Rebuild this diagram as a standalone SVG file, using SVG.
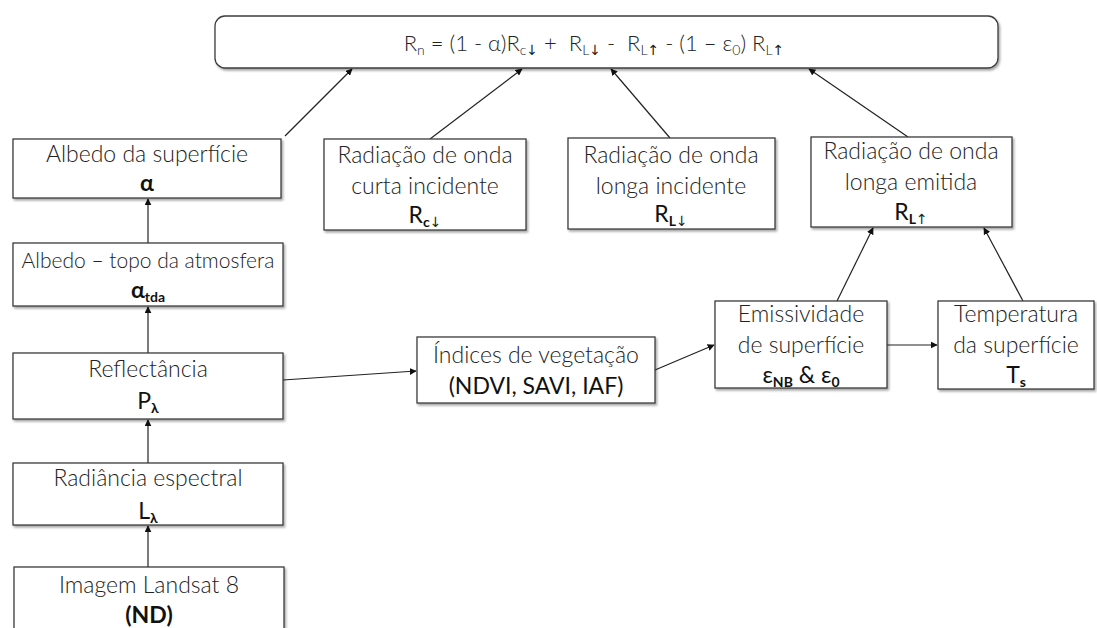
<svg xmlns="http://www.w3.org/2000/svg" width="1097" height="628" viewBox="0 0 1097 628">
<defs>
<filter id="sh" x="-5%" y="-5%" width="110%" height="120%">
<feDropShadow dx="1.5" dy="2" stdDeviation="1.2" flood-color="#000" flood-opacity="0.35"/>
</filter>
<marker id="ah" viewBox="0 0 10 10" refX="9" refY="5" markerWidth="7" markerHeight="7" markerUnits="userSpaceOnUse" orient="auto">
<path d="M0,0 L10,5 L0,10 z" fill="#111"/>
</marker>
<style>
.box{fill:#fff;stroke:#3c3c3c;stroke-width:1.3;filter:url(#sh)}
.lbl{font-family:Lato,"Open Sans","Liberation Sans",sans-serif;font-size:23px;fill:#222;text-anchor:middle;font-weight:300}
.sym{font-family:Lato,"Open Sans","Liberation Sans",sans-serif;font-size:23px;fill:#111;text-anchor:middle;font-weight:400}
.b{font-weight:700}
.sub{font-size:14px;font-weight:700}
.ar{font-family:"DejaVu Sans",sans-serif;font-weight:400;fill:#222}
.conn line{stroke:#222;stroke-width:1.2;marker-end:url(#ah)}
</style>
</defs>
<rect width="1097" height="628" fill="#fff"/>

<g class="conn">
<line x1="285" y1="136" x2="352" y2="69"/>
<line x1="430" y1="139" x2="522" y2="69"/>
<line x1="670" y1="138" x2="611" y2="69"/>
<line x1="908" y1="137" x2="809" y2="69"/>
<line x1="148" y1="243" x2="148" y2="199"/>
<line x1="148" y1="353" x2="148" y2="307"/>
<line x1="148" y1="463" x2="148" y2="420"/>
<line x1="148" y1="567" x2="148" y2="526"/>
<line x1="283" y1="380" x2="416" y2="371"/>
<line x1="655" y1="370" x2="714" y2="345"/>
<line x1="887" y1="345" x2="937" y2="345"/>
<line x1="837" y1="301" x2="873" y2="228"/>
<line x1="1023" y1="301" x2="984" y2="228"/>
</g>

<g id="balanco">
<rect class="box" x="215" y="16" width="783" height="52" rx="10"/>
<text class="lbl" x="594" y="51" style="font-size:22px" xml:space="preserve">R<tspan font-size="14" dy="4">n</tspan><tspan dy="-4"> = (1 - α)R</tspan><tspan font-size="14" dy="4">c</tspan><tspan class="ar" font-size="14">↓</tspan><tspan dy="-4"> +  R</tspan><tspan font-size="14" dy="4">L</tspan><tspan class="ar" font-size="14">↓</tspan><tspan dy="-4"> -  R</tspan><tspan font-size="14" dy="4">L</tspan><tspan class="ar" font-size="14">↑</tspan><tspan dy="-4"> - (1 – ε</tspan><tspan font-size="14" dy="4">0</tspan><tspan dy="-4">) R</tspan><tspan font-size="14" dy="4">L</tspan><tspan class="ar" font-size="14">↑</tspan></text>
</g>

<g id="albedo">
<rect class="box" x="13" y="139" width="268" height="59"/>
<text class="lbl" x="147" y="162">Albedo da superfície</text>
<text class="sym b" x="147" y="191">α</text>
</g>

<g id="albedo-toa">
<rect class="box" x="13" y="243" width="270" height="63"/>
<text class="lbl" x="148" y="268" style="font-size:21px">Albedo – topo da atmosfera</text>
<text class="sym b" x="148" y="298">α<tspan class="sub" dy="4">tda</tspan></text>
</g>

<g id="reflectancia">
<rect class="box" x="13" y="353" width="270" height="66"/>
<text class="lbl" x="148" y="377">Reflectância</text>
<text class="sym" x="148" y="409">P<tspan class="sub" dy="4">λ</tspan></text>
</g>

<g id="radiancia">
<rect class="box" x="13" y="463" width="270" height="62"/>
<text class="lbl" x="148" y="486">Radiância espectral</text>
<text class="sym" x="148" y="519">L<tspan class="sub" dy="4">λ</tspan></text>
</g>

<g id="landsat">
<rect class="box" x="14" y="567" width="270" height="80"/>
<text class="lbl" x="149" y="593">Imagem Landsat 8</text>
<text class="sym b" x="149" y="623" font-size="22">(ND)</text>
</g>

<g id="curta">
<rect class="box" x="324" y="139" width="202" height="91"/>
<text class="lbl" x="425" y="163">Radiação de onda</text>
<text class="lbl" x="425" y="194">curta incidente</text>
<text class="sym" x="425" y="223">R<tspan class="sub" dy="4">c</tspan><tspan class="sub ar">↓</tspan></text>
</g>

<g id="longa-inc">
<rect class="box" x="568" y="138" width="207" height="91"/>
<text class="lbl" x="671" y="163">Radiação de onda</text>
<text class="lbl" x="671" y="194">longa incidente</text>
<text class="sym" x="671" y="222">R<tspan class="sub" dy="4">L</tspan><tspan class="sub ar">↓</tspan></text>
</g>

<g id="longa-emit">
<rect class="box" x="811" y="137" width="201" height="90"/>
<text class="lbl" x="911" y="159">Radiação de onda</text>
<text class="lbl" x="911" y="190">longa emitida</text>
<text class="sym" x="911" y="220">R<tspan class="sub" dy="4">L</tspan><tspan class="sub ar">↑</tspan></text>
</g>

<g id="indices">
<rect class="box" x="417" y="337" width="238" height="66"/>
<text class="lbl" x="536" y="363">Índices de vegetação</text>
<text class="sym" x="536" y="394" font-size="22">(NDVI, SAVI, IAF)</text>
</g>

<g id="emissividade">
<rect class="box" x="715" y="301" width="172" height="87"/>
<text class="lbl" x="801" y="322">Emissividade</text>
<text class="lbl" x="801" y="353">de superfície</text>
<text class="sym" x="801" y="383">ε<tspan class="sub" dy="4">NB</tspan><tspan dy="-4"> &amp; ε</tspan><tspan class="sub" dy="4">0</tspan></text>
</g>

<g id="temperatura">
<rect class="box" x="938" y="301" width="156" height="88"/>
<text class="lbl" x="1016" y="322">Temperatura</text>
<text class="lbl" x="1016" y="353">da superfície</text>
<text class="sym" x="1016" y="383">T<tspan class="sub" dy="4">s</tspan></text>
</g>
</svg>
